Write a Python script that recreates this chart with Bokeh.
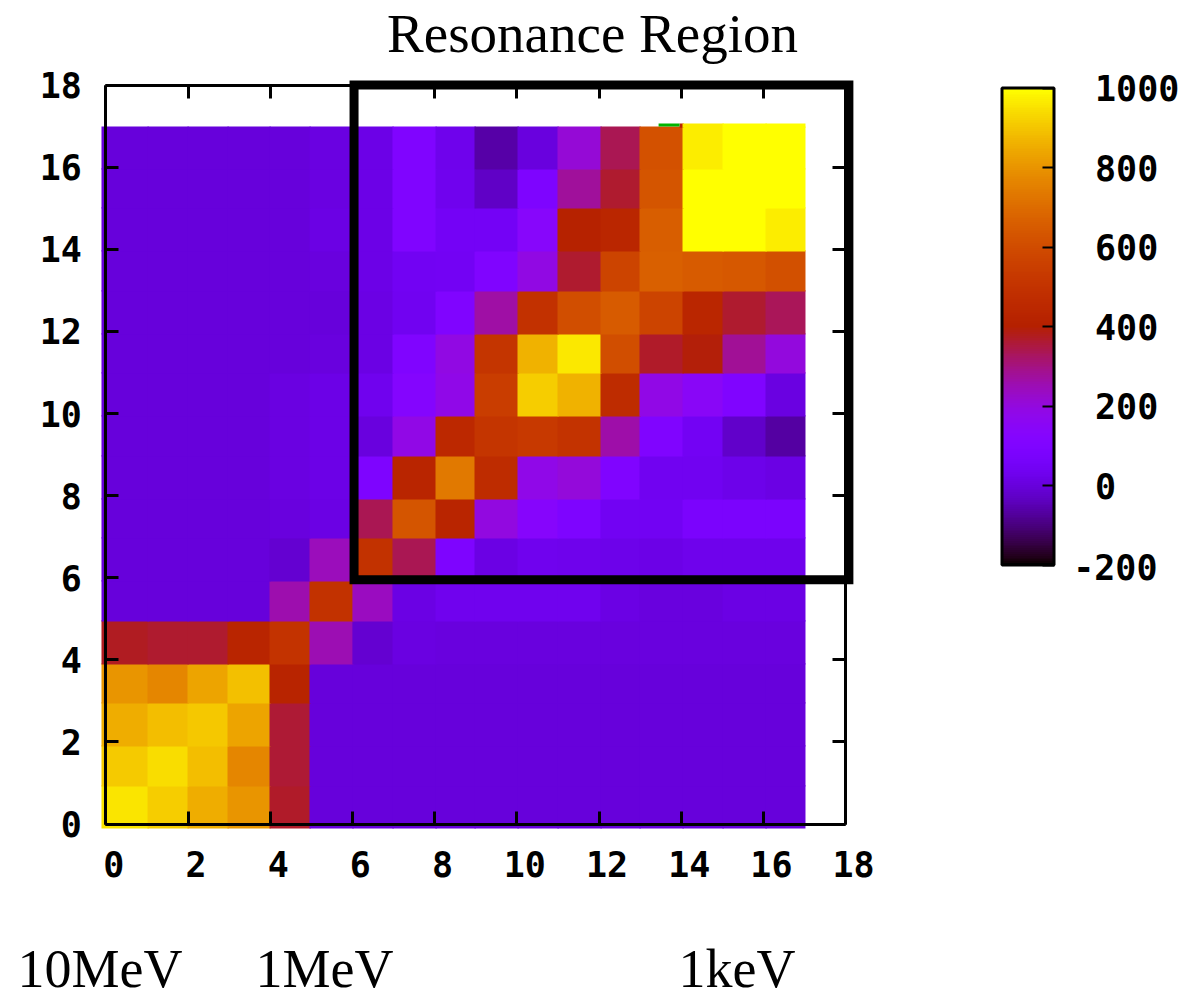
import math
from bokeh.plotting import figure
from bokeh.embed import file_html
from bokeh.resources import INLINE
from bokeh.models import (ColumnDataSource, LinearColorMapper, LinearAxis, FixedTicker,
                          ColorBar, Range1d, Label)
from bokeh.transform import transform

x_edges = [-0.105, 1.015, 1.988, 2.961, 3.983, 4.956, 6.0, 6.975, 8.022, 8.971, 10.017,
           10.99, 12.036, 12.985, 14.032, 15.005, 16.051, 17.024]
y_edges = [-0.11, 0.914, 1.888, 2.935, 3.885, 4.933, 5.907, 6.955, 7.905, 8.953, 9.927,
           10.974, 11.924, 12.972, 13.946, 14.994, 15.944, 16.992]

row_00 = [955, 912, 850, 800, 370, 0, 0, 0, 0, 0, 0, 0, 0, 0, 0, 0, 0]
row_01 = [910, 940, 885, 770, 360, 0, 0, 0, 0, 0, 0, 0, 0, 0, 0, 0, 0]
row_02 = [850, 885, 905, 835, 360, 0, 0, 0, 0, 0, 0, 0, 0, 0, 0, 0, 0]
row_03 = [800, 770, 835, 890, 425, 0, 0, 0, 0, 0, 0, 0, 0, 0, 0, 0, 0]
row_04 = [375, 365, 365, 430, 500, 250, -15, 8, 5, 5, 5, 5, 3, 3, 3, 3, 3]
row_05 = [0, 0, 0, 0, 255, 495, 240, 15, 30, 30, 30, 30, 12, 5, 5, 15, 15]
row_06 = [0, 0, 0, 0, -15, 245, 495, 335, 95, 15, 30, 28, 22, 20, 28, 28, 28]
row_07 = [0, 0, 0, 0, 5, 12, 335, 630, 430, 195, 130, 95, 40, 40, 80, 80, 80]
row_08 = [0, 0, 0, 0, 8, 20, 95, 430, 735, 470, 180, 205, 100, 35, 35, 22, 15]
row_09 = [0, 0, 0, 0, 8, 20, 3, 185, 450, 510, 530, 500, 260, 100, 45, -25, -65]
row_10 = [0, 0, 0, 0, 8, 20, 30, 120, 180, 545, 915, 860, 470, 185, 150, 100, 10]
row_11 = [0, 0, 0, 0, 0, 5, 15, 100, 190, 510, 860, 960, 610, 370, 395, 280, 200]
row_12 = [0, 0, 0, 0, 0, 0, 15, 35, 100, 265, 490, 610, 650, 570, 435, 365, 330]
row_13 = [0, 0, 0, 0, 0, 5, 20, 40, 45, 100, 190, 365, 570, 665, 650, 640, 615]
row_14 = [0, 0, 0, 0, 0, 15, 20, 100, 50, 50, 135, 410, 435, 660, 1000, 1000, 970]
row_15 = [0, 0, 0, 0, 0, 10, 20, 100, 30, -30, 95, 275, 365, 630, 1000, 1000, 1000]
row_16 = [0, 0, 0, 0, 0, 10, 20, 100, 25, -60, 5, 210, 335, 620, 970, 1000, 1000]
rows = [row_00, row_01, row_02, row_03, row_04, row_05, row_06, row_07, row_08, row_09,
        row_10, row_11, row_12, row_13, row_14, row_15, row_16]

# thin leftover strip above the last row of the map
strip_cols = [13, 14, 15, 16]
strip_vals = [430, 970, 1000, 1000]
strip_left = [13.96, 14.032, 15.005, 16.051]
strip_top = 17.065
green_left, green_right = 13.45, 13.96

ticks = [0, 2, 4, 6, 8, 10, 12, 14, 16, 18]
cbar_ticks = [-200, 0, 200, 400, 600, 800, 1000]
title = "Resonance Region"
energy_labels = ["10MeV", "1MeV", "1keV"]

SX, SY = 41.1, 41.05
OX, OY = 105.3, 823.5
def X(px):
    return (px - OX) / SX
def Y(py):
    return (OY - py) / SY

# gnuplot's default pm3d palette (rgbformulae 7,5,15)
def pal(n=256):
    out = []
    for i in range(n):
        t = i / (n - 1)
        r = math.sqrt(t)
        g = t ** 3
        b = max(0.0, math.sin(2 * math.pi * t))
        out.append("#%02x%02x%02x" % (round(r * 255), round(g * 255), round(b * 255)))
    return out

mapper = LinearColorMapper(palette=pal(), low=-200, high=1000)

# cells overlap the next ones a little, which are painted later, so no seams show
LAP = 0.03
n_rows, n_cols = len(rows), len(rows[0])
left, right, bottom, top, val = [], [], [], [], []
for j, row in enumerate(rows):
    for i, v in enumerate(row):
        left.append(x_edges[i])
        right.append(x_edges[i + 1] + (LAP if i < n_cols - 1 else 0))
        bottom.append(y_edges[j])
        top.append(y_edges[j + 1] + (LAP if j < n_rows - 1 else 0))
        val.append(v)
for k, c in enumerate(strip_cols):
    left.append(strip_left[k])
    right.append(x_edges[c + 1] + (LAP if c < n_cols - 1 else 0))
    bottom.append(y_edges[-1] - LAP)
    top.append(strip_top)
    val.append(strip_vals[k])
src = ColumnDataSource(dict(left=left, right=right, bottom=bottom, top=top, val=val))

W, H = 1184, 990
p = figure(width=W, height=H, output_backend="svg", toolbar_location=None,
           x_axis_type=None, y_axis_type=None, min_border=0,
           x_range=Range1d(X(0), X(W)), y_range=Range1d(Y(H), Y(0)),
           outline_line_color=None, background_fill_color="white")

p.quad(left="left", right="right", bottom="bottom", top="top", source=src,
       fill_color=transform("val", mapper), line_color=None)
p.quad(left=[green_left], right=[green_right], bottom=[y_edges[-1]], top=[strip_top],
       fill_color="#00b400", line_color=None)

# heavy box round the resonance region
p.quad(left=[6.04], right=[18.08], bottom=[5.95], top=[18.0], fill_color=None,
       line_color="black", line_width=9, line_join="miter")

FONT = "DejaVu Sans Mono"
FS = "35px"
def frame_axis(place, loc):
    ax = LinearAxis(fixed_location=loc, ticker=FixedTicker(ticks=ticks), bounds=(0, 18),
                    major_label_text_font_size="0px", major_label_standoff=0,
                    minor_tick_line_color=None, axis_line_color="black", axis_line_width=3,
                    major_tick_line_color="black", major_tick_line_width=3,
                    major_tick_in=13, major_tick_out=0, major_label_text_color=None)
    p.add_layout(ax, place)
    return ax

frame_axis("below", 0)
frame_axis("above", 18)
frame_axis("left", 0)
frame_axis("right", 18)

# tick labels, set slightly to the right of the ticks as in the reference
p.extra_x_ranges["xlabels"] = Range1d(X(-8), X(W - 8))
xl = LinearAxis(fixed_location=0, x_range_name="xlabels", ticker=FixedTicker(ticks=ticks),
                axis_line_color=None, major_tick_line_color=None, minor_tick_line_color=None,
                major_tick_in=0, major_tick_out=0, major_label_standoff=27,
                major_label_text_font=FONT, major_label_text_font_style="bold",
                major_label_text_font_size=FS, major_label_text_color="black")
p.add_layout(xl, "below")
yl = LinearAxis(fixed_location=0, ticker=FixedTicker(ticks=ticks),
                axis_line_color=None, major_tick_line_color=None, minor_tick_line_color=None,
                major_tick_in=0, major_tick_out=0, major_label_standoff=24,
                major_label_text_font=FONT, major_label_text_font_style="bold",
                major_label_text_font_size=FS, major_label_text_color="black")
p.add_layout(yl, "left")

cb = ColorBar(color_mapper=mapper, ticker=FixedTicker(ticks=cbar_ticks), width=52, height=477,
              location=(1001.5, H - 564.5), padding=0, margin=0, background_fill_color=None,
              border_line_color=None, bar_line_color="black", bar_line_width=3,
              major_tick_line_color="black", major_tick_line_width=2, major_tick_in=12,
              minor_tick_line_color=None, label_standoff=41,
              major_label_overrides={-200: ""},
              major_label_text_font=FONT, major_label_text_font_style="bold",
              major_label_text_font_size=FS, major_label_text_color="black")
p.add_layout(cb)

def lab(text, px, py, size, font="Liberation Serif", style="normal", align="left"):
    p.add_layout(Label(x=X(px), y=Y(py), text=text, text_font=font, text_font_size=size,
                       text_font_style=style, text_align=align, text_baseline="middle",
                       text_color="black"))

lab("-200", 1157, 566, FS, FONT, "bold", "right")
lab(title, 592, 33, "55px", align="center")
lab(energy_labels[0], 17, 968, "54px")
lab(energy_labels[1], 255, 968, "54px")
lab(energy_labels[2], 678, 968, "54px")

open("out.html", "w").write(file_html(p, INLINE))
